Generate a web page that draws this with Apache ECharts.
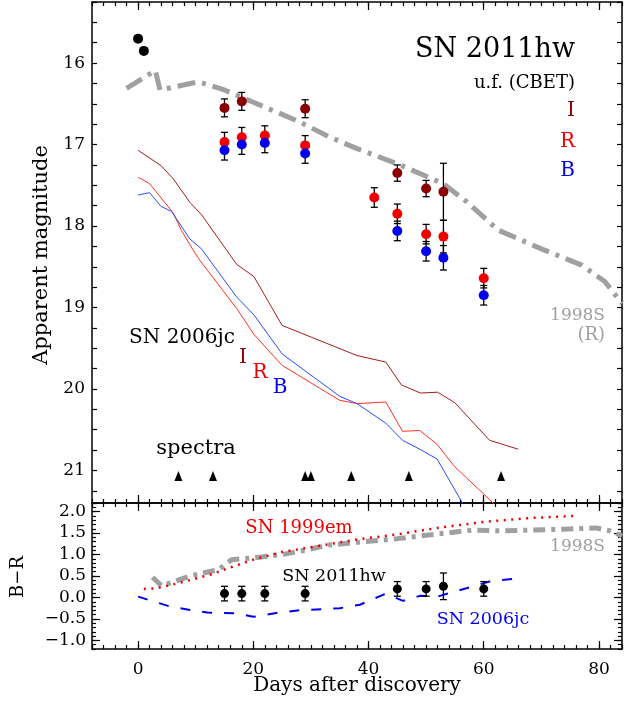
<!DOCTYPE html>
<html>
<head>
<meta charset="utf-8">
<script src="https://cdn.jsdelivr.net/npm/echarts@6/dist/echarts.min.js"></script>
<style>
  html, body { margin: 0; padding: 0; background: #fff; }
  #chart { width: 627px; height: 706px; }
</style>
</head>
<body>
<div id="chart"></div>
<script>
// SN 2011hw photometry (days after discovery, apparent mag, error)
const earlyDays = [0, 1]
const earlyMag = [15.70, 15.85]

const iDays = [15, 18, 29, 45, 50, 53]
const iMag = [16.55, 16.47, 16.56, 17.35, 17.54, 17.58]
const iErr = [0.11, 0.11, 0.11, 0.10, 0.10, 0.35]

const rDays = [15, 18, 22, 29, 41, 45, 50, 53, 60]
const rMag = [16.97, 16.91, 16.89, 17.01, 17.65, 17.85, 18.10, 18.13, 18.64]
const rErr = [0.12, 0.12, 0.12, 0.12, 0.12, 0.12, 0.12, 0.20, 0.12]

const bDays = [15, 18, 22, 29, 45, 50, 53, 60]
const bMag = [17.07, 17.00, 16.98, 17.11, 18.06, 18.31, 18.39, 18.85]
const bErr = [0.12, 0.12, 0.12, 0.12, 0.12, 0.12, 0.15, 0.12]

// SN 1998S R-band comparison
const s98Days = [-2, 3, 3.8, 10.5, 15, 20, 24, 28, 33, 38, 44.8, 53, 57, 62.5, 70, 77, 81, 84]
const s98Mag = [16.31, 16.09, 16.33, 16.23, 16.33, 16.48, 16.6, 16.72, 16.9, 17.05, 17.23, 17.48, 17.7, 18.05, 18.28, 18.48, 18.68, 18.95]

// SN 2006jc light curves
const jcIDays = [0, 4, 6.1, 9, 11, 15.3, 17.1, 20.1, 25, 38, 43, 45.7, 49, 52, 55, 61, 66]
const jcIMag = [17.07, 17.26, 17.42, 17.71, 17.86, 18.29, 18.47, 18.62, 19.22, 19.59, 19.67, 19.95, 20.05, 20.04, 20.17, 20.63, 20.74]
const jcRDays = [0, 2, 6.1, 7.5, 9.5, 10.7, 17.1, 20.1, 25, 35, 38, 43, 45.9, 48.9, 51.9, 54.9, 60, 66]
const jcRMag = [17.40, 17.48, 17.84, 18.05, 18.29, 18.42, 19.01, 19.33, 19.71, 20.14, 20.18, 20.16, 20.52, 20.51, 20.68, 20.95, 21.29, 21.7]
const jcBDays = [0, 2, 4, 5.8, 9, 11, 17.1, 20.1, 25, 35, 38, 43, 45.9, 48.9, 51.9, 56.3, 60]
const jcBMag = [17.62, 17.59, 17.76, 17.82, 18.16, 18.28, 18.87, 19.09, 19.57, 20.09, 20.18, 20.42, 20.63, 20.74, 20.86, 21.4, 21.85]

// epochs of spectra
const specDays = [7, 13, 29, 30, 37, 47, 63]
const specLevel = 21.07

// B-R colour panel
const brDays = [15, 18, 22, 29, 45, 50, 53, 60]
const brVal = [0.09, 0.09, 0.09, 0.09, 0.20, 0.20, 0.26, 0.20]
const brErr = [0.17, 0.17, 0.17, 0.17, 0.17, 0.17, 0.31, 0.17]

const em99Days = [1, 3, 6, 10, 13, 16, 20, 25, 30, 38, 45, 52, 60, 68, 76]
const em99Val = [0.2, 0.21, 0.3, 0.44, 0.55, 0.7, 0.88, 1.06, 1.17, 1.35, 1.47, 1.62, 1.76, 1.85, 1.9]

const s98brDays = [2.5, 4.1, 9, 14, 16.2, 20, 25, 29, 33, 45, 58, 63, 74, 79.5, 82, 84]
const s98brVal = [0.47, 0.27, 0.5, 0.65, 0.88, 0.92, 1.0, 1.1, 1.22, 1.37, 1.57, 1.55, 1.59, 1.62, 1.55, 1.43]

const jcbrDays = [0, 5.5, 9, 12, 17, 20, 24, 28, 35, 38.5, 43, 46, 49, 52, 55, 61, 66]
const jcbrVal = [0.02, -0.21, -0.29, -0.35, -0.37, -0.45, -0.36, -0.3, -0.25, -0.17, 0.09, -0.08, 0.04, 0.02, 0.14, 0.37, 0.45]

// axis ticks
const xMajor = [0, 20, 40, 60, 80]
const brMajor = [-1, -0.5, 0, 0.5, 1, 1.5, 2]

const FONT = "'DejaVu Serif', serif"
const C_I = '#8b0000'
const C_R = '#ee0000'
const C_B = '#0000ee'
const GRAY = '#a0a0a0'

const pairs = (xs, ys) => xs.map((x, i) => [x, ys[i]])
const triples = (xs, ys, es) => xs.map((x, i) => [x, ys[i], es[i]])

const axisLine = { show: true, onZero: false, lineStyle: { color: '#000', width: 1.5 } }
const tickStyle = { color: '#000', width: 1.2 }
const labelStyle = { color: '#000', fontFamily: FONT, fontSize: 17 }

const minorX = (gridIndex, position) => ({
  type: 'value', gridIndex, position, min: -8, max: 84, interval: 2,
  axisLine,
  axisTick: { show: true, inside: true, length: 4, lineStyle: tickStyle },
  axisLabel: { show: false },
  splitLine: { show: false }
})

const majorX = (gridIndex, position, showLabel) => ({
  type: 'value', gridIndex, position, min: -8, max: 84,
  axisLine: { show: false, onZero: false },
  axisTick: { show: true, inside: true, length: 8, customValues: xMajor, lineStyle: tickStyle },
  axisLabel: { show: showLabel, customValues: xMajor, margin: 12, ...labelStyle },
  splitLine: { show: false }
})

const magY = (position, showLabel) => ({
  type: 'value', gridIndex: 0, position, inverse: true, min: 15.25, max: 21.4, interval: 0.25,
  axisLine,
  axisTick: { show: true, inside: true, length: 5, lineStyle: tickStyle },
  axisLabel: {
    show: showLabel, margin: 7, ...labelStyle,
    formatter: v => Math.abs(v - Math.round(v)) < 1e-6 ? String(Math.round(v)) : ''
  },
  splitLine: { show: false }
})

const minorBR = position => ({
  type: 'value', gridIndex: 1, position, min: -1.2, max: 2.2, interval: 0.1,
  axisLine,
  axisTick: { show: true, inside: true, length: 4, lineStyle: tickStyle },
  axisLabel: { show: false },
  splitLine: { show: false }
})

const majorBR = (position, showLabel) => ({
  type: 'value', gridIndex: 1, position, min: -1.2, max: 2.2,
  axisLine: { show: false, onZero: false },
  axisTick: { show: true, inside: true, length: 8, customValues: brMajor, lineStyle: tickStyle },
  axisLabel: {
    show: showLabel, customValues: brMajor, margin: 6, ...labelStyle,
    formatter: v => (v < 0 ? '\u2212' : '') + Math.abs(v).toFixed(1)
  },
  splitLine: { show: false }
})

const errBar = (params, api) => {
  const x = api.value(0), y = api.value(1), e = api.value(2)
  const a = api.coord([x, y - e])
  const b = api.coord([x, y + e])
  const w = 3.5
  const style = { stroke: '#000', lineWidth: 1.3 }
  return {
    type: 'group',
    children: [
      { type: 'line', shape: { x1: a[0], y1: a[1], x2: b[0], y2: b[1] }, style },
      { type: 'line', shape: { x1: a[0] - w, y1: a[1], x2: a[0] + w, y2: a[1] }, style },
      { type: 'line', shape: { x1: b[0] - w, y1: b[1], x2: b[0] + w, y2: b[1] }, style }
    ]
  }
}

const errSeries = (data, xi, yi) => ({
  type: 'custom', xAxisIndex: xi, yAxisIndex: yi, renderItem: errBar,
  encode: { x: 0, y: 1 }, data, z: 3, silent: true
})

const dots = (data, color, size, xi, yi) => ({
  type: 'scatter', xAxisIndex: xi, yAxisIndex: yi, data,
  symbol: 'circle', symbolSize: size, itemStyle: { color, opacity: 1 }, z: 4
})

const curve = (data, color, width, dash, xi, yi, z) => ({
  type: 'line', xAxisIndex: xi, yAxisIndex: yi, data, symbol: 'none',
  lineStyle: { color, width, type: dash }, z: z || 2
})

const txt = (text, x, y, color, size, align, rotation) => ({
  type: 'text', x, y, rotation: rotation || 0, z: 10,
  style: {
    text, fill: color, font: size + 'px ' + FONT,
    align: align || 'center', textAlign: align || 'center',
    verticalAlign: 'middle', textVerticalAlign: 'middle'
  }
})

const chart = echarts.init(document.getElementById('chart'))

chart.setOption({
  animation: false,
  backgroundColor: '#fff',
  grid: [
    { left: 92, width: 530, top: 2, height: 501 },
    { left: 92, width: 530, top: 503, height: 146 }
  ],
  xAxis: [
    minorX(0, 'bottom'), majorX(0, 'bottom', false),
    minorX(0, 'top'), majorX(0, 'top', false),
    minorX(1, 'top'), majorX(1, 'top', false),
    minorX(1, 'bottom'), majorX(1, 'bottom', true)
  ],
  yAxis: [
    magY('left', true), magY('right', false),
    minorBR('left'), majorBR('left', true),
    minorBR('right'), majorBR('right', false)
  ],
  series: [
    // top panel
    curve(pairs(s98Days, s98Mag), GRAY, 5, [18, 7, 4, 7], 0, 0, 1),
    curve(pairs(jcIDays, jcIMag), '#a81c1c', 1, 'solid', 0, 0),
    curve(pairs(jcRDays, jcRMag), '#ff3322', 1, 'solid', 0, 0),
    curve(pairs(jcBDays, jcBMag), '#2a4cff', 1, 'solid', 0, 0),
    errSeries(triples(iDays, iMag, iErr), 0, 0),
    errSeries(triples(rDays, rMag, rErr), 0, 0),
    errSeries(triples(bDays, bMag, bErr), 0, 0),
    dots(pairs(iDays, iMag), C_I, 10, 0, 0),
    dots(pairs(rDays, rMag), C_R, 10, 0, 0),
    dots(pairs(bDays, bMag), C_B, 10, 0, 0),
    dots(pairs(earlyDays, earlyMag), '#000', 10, 0, 0),
    {
      type: 'scatter', xAxisIndex: 0, yAxisIndex: 0,
      data: specDays.map(d => [d, specLevel]),
      symbol: 'triangle', symbolSize: [8, 10], itemStyle: { color: '#000', opacity: 1 }, z: 4
    },
    // bottom panel
    curve(pairs(s98brDays, s98brVal), GRAY, 5, [12, 6, 4, 6], 4, 2, 1),
    curve(pairs(em99Days, em99Val), '#ee0000', 2.5, [2, 5.5], 4, 2),
    curve(pairs(jcbrDays, jcbrVal), '#0000ee', 2, [10, 12], 4, 2),
    errSeries(triples(brDays, brVal, brErr), 4, 2),
    dots(pairs(brDays, brVal), '#000', 9, 4, 2)
  ],
  graphic: [
    txt('SN 2011hw', 575, 50, '#000', 27, 'right'),
    txt('u.f. (CBET)', 575, 83, '#000', 18, 'right'),
    txt('I', 575, 111, C_I, 20, 'right'),
    txt('R', 575, 142, C_R, 20, 'right'),
    txt('B', 575, 171, C_B, 20, 'right'),
    txt('1998S', 605, 316, GRAY, 17, 'right'),
    txt('(R)', 605, 335, GRAY, 18, 'right'),
    txt('SN 2006jc', 182, 338, '#000', 20),
    txt('I', 243, 358, C_I, 20),
    txt('R', 260, 373, C_R, 20),
    txt('B', 280, 388, C_B, 20),
    txt('spectra', 196, 449, '#000', 21),
    txt('SN 1999em', 299, 528, C_R, 18),
    txt('SN 2011hw', 334, 576, '#000', 17.5),
    txt('1998S', 605, 547, GRAY, 17, 'right'),
    txt('SN 2006jc', 483, 619, C_B, 17.5),
    txt('Apparent magnitude', 42, 255, '#000', 21, 'center', Math.PI / 2),
    txt('B\u2212R', 18, 577, '#000', 18, 'center', Math.PI / 2),
    txt('Days after discovery', 357, 686, '#000', 20)
  ]
})

window.addEventListener('resize', () => chart.resize())
</script>
</body>
</html>
